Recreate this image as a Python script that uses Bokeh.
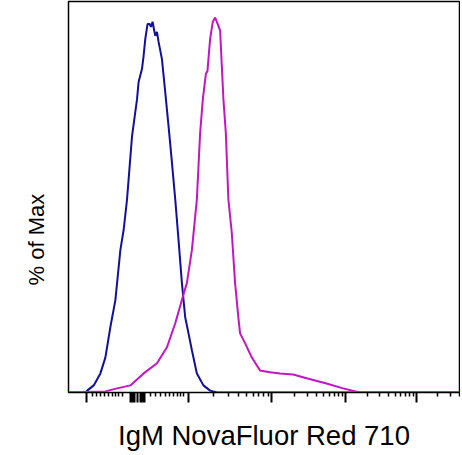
import numpy as np
from bokeh.plotting import figure
from bokeh.models import FixedTicker, Range1d, Title
from bokeh.embed import file_html
from bokeh.resources import INLINE

# Display (channel) scale 0..1000 of a biexponential axis
ctrl_x = [0, 43.4, 47.7, 64.5, 81.6, 94.4, 107.1, 119.9, 132.7, 141.1, 149.7, 162.5, 175.3,
          179.3, 188.0, 192.1, 196.4, 202.3, 207.4, 211.0, 215.0, 221.9, 226.3, 230.4,
          239.0, 247.4, 255.9, 264.5, 273.0, 281.4, 290.0, 298.5, 306.9, 315.6, 328.3,
          345.1, 362.2, 379.3, 1000]
ctrl_y = [0, 0, 0.5, 1.9, 5.1, 9.4, 17.5, 24.7, 38.1, 43.5, 51.6, 68.5, 78.4,
          83.0, 86.5, 90.0, 94.5, 98.5, 98.5, 97.7, 99.1, 95.3, 96.4, 93.7,
          89.1, 80.3, 71.2, 61.5, 51.6, 40.8, 29.3, 20.1, 15.8, 11.3, 5.1,
          1.9, 0.5, 0, 0]

igm_x = [0, 94.4, 124.2, 158.2, 192.1, 226.3, 251.8, 273.0, 290.0, 302.8, 315.6, 328.3,
         336.7, 343.6, 351.3, 355.4, 357.9, 362.2, 369.1, 375.0, 383.4, 387.8, 392.1,
         396.2, 402.3, 408.9, 417.6, 426.0, 434.4, 438.8, 451.5, 468.6, 489.8, 515.3,
         540.8, 574.7, 608.9, 659.9, 702.3, 744.9, 1000]
igm_y = [0, 0.3, 1.1, 1.9, 5.1, 7.8, 12.1, 18.5, 24.7, 29.3, 38.1, 51.6,
         69.5, 78.4, 85.1, 85.9, 89.1, 94.5, 99.1, 100.2, 98.0, 96.7, 87.3,
         78.4, 69.5, 51.6, 42.7, 29.3, 20.1, 15.8, 13.2, 9.4, 5.9, 5.4,
         5.1, 4.8, 3.8, 2.4, 1.1, 0, 0]

# axis tick positions on the display scale
decade_pos = [306.1, 520.4, 709.2, 890.3, 1071.4]   # 1e3, 1e4, 1e5, 1e6, 1e7
major_ticks = [45.9, 158.2, 163.3, 168.4, 176.0, 183.7, 188.8, 193.9] + decade_pos[:4]
linear_minor = [60.5, 71.4, 81.6, 91.8, 102.0, 111.5, 119.9, 127.6, 137.0,
                209.2, 221.9, 234.7, 247.4, 257.7, 267.9, 278.1, 285.7, 293.4]
log_minor = []
for a, b in zip(decade_pos[:-1], decade_pos[1:]):
    for m in range(2, 10):
        t = a + (b - a) * np.log10(m)
        if t <= 1000:
            log_minor.append(t)
minor_ticks = linear_minor + log_minor

p = figure(width=460, height=453, output_backend="svg", toolbar_location=None,
           x_range=Range1d(0, 1000), y_range=Range1d(0, 104.5),
           min_border_left=68, min_border_right=1, min_border_top=1, min_border_bottom=61)
p.grid.visible = False
p.outline_line_color = "black"
p.outline_line_width = 1.5
p.background_fill_color = "white"
p.border_fill_color = "white"

p.line(ctrl_x, ctrl_y, line_color="#10109c", line_width=2)
p.line(igm_x, igm_y, line_color="#c414c4", line_width=2)

xa = p.xaxis[0]
xa.ticker = FixedTicker(ticks=major_ticks, minor_ticks=minor_ticks)
xa.major_tick_out = 10
xa.major_tick_in = 0
xa.minor_tick_out = 4
xa.minor_tick_in = 0
xa.major_tick_line_width = 2
xa.minor_tick_line_width = 1.5
xa.major_tick_line_color = "black"
xa.minor_tick_line_color = "black"
xa.axis_line_color = "black"
xa.major_label_text_font_size = "0px"
xa.major_label_standoff = 0
xa.axis_label = "IgM NovaFluor Red 710"
xa.axis_label_text_font = "Liberation Sans"
xa.axis_label_text_font_size = "27.5px"
xa.axis_label_text_font_style = "normal"
xa.axis_label_text_color = "black"
xa.axis_label_standoff = 17

ya = p.yaxis[0]
ya.ticker = FixedTicker(ticks=[])
ya.major_tick_out = 0
ya.minor_tick_out = 0
ya.major_tick_in = 0
ya.minor_tick_in = 0
ya.major_label_text_font_size = "0px"
ya.major_label_standoff = 0
ya.axis_line_color = "black"

ylab = Title(text="% of Max", align="left", vertical_align="top", offset=107, standoff=36,
             text_font="Liberation Sans", text_font_size="22px",
             text_font_style="normal", text_color="black")
p.add_layout(ylab, "left")

open("out.html", "w").write(file_html(p, INLINE))
